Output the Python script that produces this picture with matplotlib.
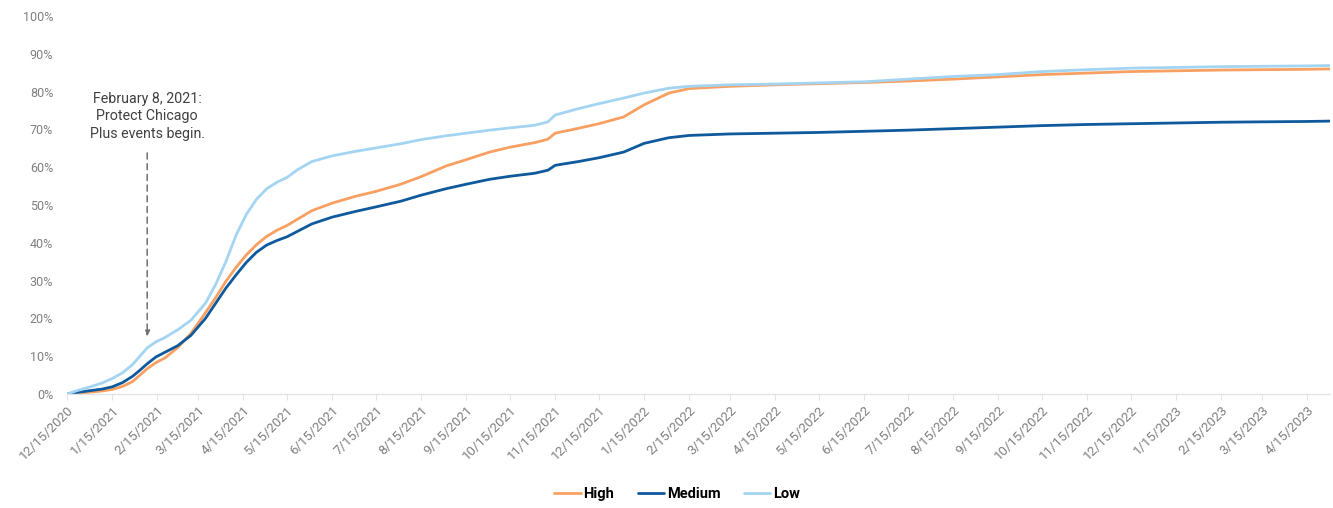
import matplotlib
matplotlib.use("Agg")
import matplotlib.pyplot as plt
import pandas as pd

plt.rcParams['font.family'] = ['Roboto', 'DejaVu Sans']

# ---- data (cumulative share vaccinated, %) ----
dates_str = [
    "2020-12-15", "2020-12-22", "2020-12-31", "2021-01-08", "2021-01-15", "2021-01-22",
    "2021-01-29", "2021-02-03", "2021-02-08", "2021-02-14", "2021-02-20",
    "2021-03-01", "2021-03-10", "2021-03-20", "2021-03-27", "2021-04-03", "2021-04-10",
    "2021-04-17", "2021-04-24",
    "2021-05-01", "2021-05-08", "2021-05-15", "2021-05-22", "2021-06-01", "2021-06-15",
    "2021-07-01", "2021-07-15",
    "2021-08-01", "2021-08-15", "2021-09-01", "2021-09-15", "2021-10-01", "2021-10-15",
    "2021-11-01", "2021-11-10", "2021-11-15", "2021-12-01", "2021-12-15", "2022-01-01",
    "2022-01-15", "2022-02-01", "2022-02-15", "2022-03-15", "2022-04-15", "2022-05-15",
    "2022-06-15", "2022-07-15", "2022-08-15", "2022-09-15", "2022-10-15", "2022-11-15",
    "2022-12-15", "2023-01-15", "2023-02-15", "2023-03-15", "2023-04-15", "2023-05-01",
]
high = [
    0.0, 0.2, 0.5, 0.8, 1.2, 2.0,
    3.3, 5.0, 6.7, 8.3, 9.5,
    12.3, 16.0, 21.5, 25.5, 29.8, 33.5,
    36.8, 39.5,
    41.7, 43.3, 44.6, 46.2, 48.5, 50.5,
    52.3, 53.6,
    55.5, 57.5, 60.3, 62.0, 64.0, 65.3,
    66.5, 67.4, 69.0, 70.3, 71.5, 73.3,
    76.5, 79.6, 80.8, 81.4, 81.8, 82.1,
    82.4, 82.8, 83.3, 83.9, 84.5, 84.9,
    85.3, 85.5, 85.7, 85.8, 85.9, 86.0,
]
medium = [
    0.0, 0.4, 0.9, 1.3, 1.9, 3.0,
    4.7, 6.3, 8.0, 9.8, 11.0,
    12.8, 15.5, 20.0, 24.0, 28.0, 31.5,
    34.8, 37.5,
    39.4, 40.6, 41.6, 43.0, 45.0, 46.8,
    48.3, 49.5,
    51.0, 52.6, 54.3, 55.5, 56.8, 57.6,
    58.4, 59.2, 60.5, 61.5, 62.5, 64.0,
    66.3, 67.8, 68.4, 68.8, 69.0, 69.2,
    69.5, 69.8, 70.2, 70.6, 71.0, 71.3,
    71.5, 71.7, 71.9, 72.0, 72.1, 72.2,
]
low = [
    0.0, 0.9, 1.9, 2.9, 4.1, 5.6,
    7.8, 10.0, 12.2, 13.8, 14.9,
    17.0, 19.5, 24.0, 29.0, 35.0, 42.0,
    47.5, 51.5,
    54.3, 56.0, 57.3, 59.3, 61.5, 63.0,
    64.2, 65.1,
    66.2, 67.3, 68.3, 69.0, 69.8, 70.4,
    71.1, 72.0, 73.8, 75.5, 76.8, 78.3,
    79.6, 80.9, 81.4, 81.8, 82.0, 82.3,
    82.6, 83.3, 84.0, 84.5, 85.3, 85.8,
    86.2, 86.4, 86.6, 86.7, 86.8, 86.9,
]
series_names = ["High", "Medium", "Low"]
series_colors = ["#F7A062", "#0E5A9C", "#A3D5F2"]

tick_dates = pd.date_range("2020-12-01", "2023-04-01", freq="MS") + pd.Timedelta(days=14)
annot_date = "2021-02-08"
annot_text = "February 8, 2021:\nProtect Chicago\nPlus events begin."

# ---- plot ----
dates = pd.to_datetime(dates_str)
fig = plt.figure(figsize=(13.33, 5.08), dpi=100)
ax = fig.add_axes([0.0503, 0.2244, 0.9477, 0.7441])

lines = []
for name, vals, col in zip(series_names, [high, medium, low], series_colors):
    ln, = ax.plot(dates, [v / 100 for v in vals], color=col, lw=2.0, label=name,
                  solid_capstyle="round", solid_joinstyle="round")
    lines.append(ln)
lines[2].set_zorder(3)
lines[0].set_zorder(2)
lines[1].set_zorder(2)

ax.set_xlim(pd.Timestamp("2020-12-15"), pd.Timestamp("2023-05-01"))
ax.set_ylim(0, 1)
ax.set_yticks([i / 10 for i in range(11)])
ax.set_yticklabels([f"{i*10}%" for i in range(11)])
ax.set_xticks(tick_dates)
ax.set_xticklabels([f"{d.month}/{d.day}/{d.year}" for d in tick_dates],
                   rotation=45, ha="right", rotation_mode="anchor")

for s in ["top", "right", "left"]:
    ax.spines[s].set_visible(False)
ax.spines["bottom"].set_color("#E3E3E3")
ax.spines["bottom"].set_linewidth(1.0)
ax.tick_params(axis="y", length=0, labelsize=9, labelcolor="#7F7F7F", pad=10)
ax.tick_params(axis="x", length=4, color="#E3E3E3", labelsize=9.5,
               labelcolor="#7F7F7F", pad=3)

ad = pd.Timestamp(annot_date)
ax.annotate("", xy=(ad, 0.145), xytext=(ad, 0.645),
            arrowprops=dict(arrowstyle="-|>", linestyle=(0, (4, 3)), color="#707070",
                            lw=1.1, mutation_scale=8))
ax.text(ad, 0.67, annot_text, ha="center", va="bottom", fontsize=10.3,
        color="#404040", linespacing=1.3)

fig.legend(handles=lines, labels=series_names, loc="center",
           bbox_to_anchor=(0.508, 0.027), ncol=3, frameon=False,
           handlelength=1.8, handletextpad=0.2, columnspacing=1.6,
           prop={"weight": "bold", "size": 10.5})

fig.savefig("out.png", dpi=100)
